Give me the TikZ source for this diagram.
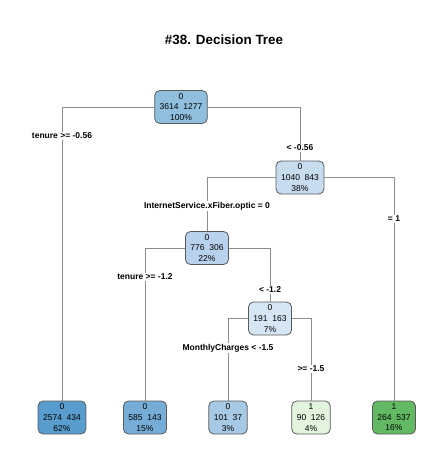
\documentclass[tikz,border=0pt]{standalone}
\usepackage{fontspec}
\setmainfont{Liberation Sans}
\definecolor{cRoot}{RGB}{143,191,221}
\definecolor{cTwo}{RGB}{200,220,240}
\definecolor{cThree}{RGB}{184,210,237}
\definecolor{cFour}{RGB}{214,230,244}
\definecolor{cLeafA}{RGB}{88,157,205}
\definecolor{cLeafB}{RGB}{117,173,214}
\definecolor{cLeafC}{RGB}{166,201,229}
\definecolor{cLeafD}{RGB}{226,244,222}
\definecolor{cLeafE}{RGB}{99,185,99}
\definecolor{edgegray}{RGB}{140,140,140}
\definecolor{bordergray}{RGB}{90,90,90}
\tikzset{
  treenode/.style={draw=bordergray, line width=0.8pt, rounded corners=5pt,
    align=center, inner xsep=5pt, inner ysep=1pt, minimum height=33pt,
    font=\fontsize{8.5}{10.6}\selectfont},
  splitlabel/.style={fill=white, inner sep=1pt, font=\fontsize{8.5}{10}\selectfont\bfseries},
  branch/.style={draw=edgegray, line width=0.8pt},
}
\begin{document}
\begin{tikzpicture}[x=1pt,y=-1pt]
\useasboundingbox (0,0) rectangle (447,466);
\fill[white] (0,0) rectangle (447,466);

% title
\node[font=\fontsize{13.4}{15}\selectfont\bfseries] (title) at (224,40) {\#38. Decision Tree};

% internal nodes
\node[treenode, fill=cRoot]  (root) at (181,107) {0\\3614\ \ 1277\\100\%};
\node[treenode, fill=cTwo]   (n2)   at (300,177.5) {0\\1040\ \ 843\\38\%};
\node[treenode, fill=cThree] (n3)   at (207,248) {0\\776\ \ 306\\22\%};
\node[treenode, fill=cFour]  (n4)   at (270,318.5) {0\\191\ \ 163\\7\%};

% leaves
\node[treenode, fill=cLeafA] (l1) at (62,417.5)  {0\\2574\ \ 434\\62\%};
\node[treenode, fill=cLeafB] (l2) at (145,417.5) {0\\585\ \ 143\\15\%};
\node[treenode, fill=cLeafC] (l3) at (228,417.5) {0\\101\ \ 37\\3\%};
\node[treenode, fill=cLeafD] (l4) at (311,417.5) {1\\90\ \ 126\\4\%};
\node[treenode, fill=cLeafE] (l5) at (394,417.5) {1\\264\ \ 537\\16\%};

% branches: elbow connectors from each split to its two children
\draw[branch] (root.west) -| (l1.north);
\draw[branch] (root.east) -| (n2.north);
\draw[branch] (n2.west) -| (n3.north);
\draw[branch] (n2.east) -| (l5.north);
\draw[branch] (n3.west) -| (l2.north);
\draw[branch] (n3.east) -| (n4.north);
\draw[branch] (n4.west) -| (l3.north);
\draw[branch] (n4.east) -| (l4.north);

% split labels, set over the branch lines
\node[splitlabel] (s1) at (62,136)  {tenure >= -0.56};
\node[splitlabel] (s2) at (300,148) {< -0.56};
\node[splitlabel] (s3) at (207,206) {InternetService.xFiber.optic = 0};
\node[splitlabel] (s4) at (394,219) {= 1};
\node[splitlabel] (s5) at (145,277) {tenure >= -1.2};
\node[splitlabel] (s6) at (270,290) {< -1.2};
\node[splitlabel] (s7) at (228,348) {MonthlyCharges < -1.5};
\node[splitlabel] (s8) at (311,369) {>= -1.5};
\end{tikzpicture}
\end{document}
